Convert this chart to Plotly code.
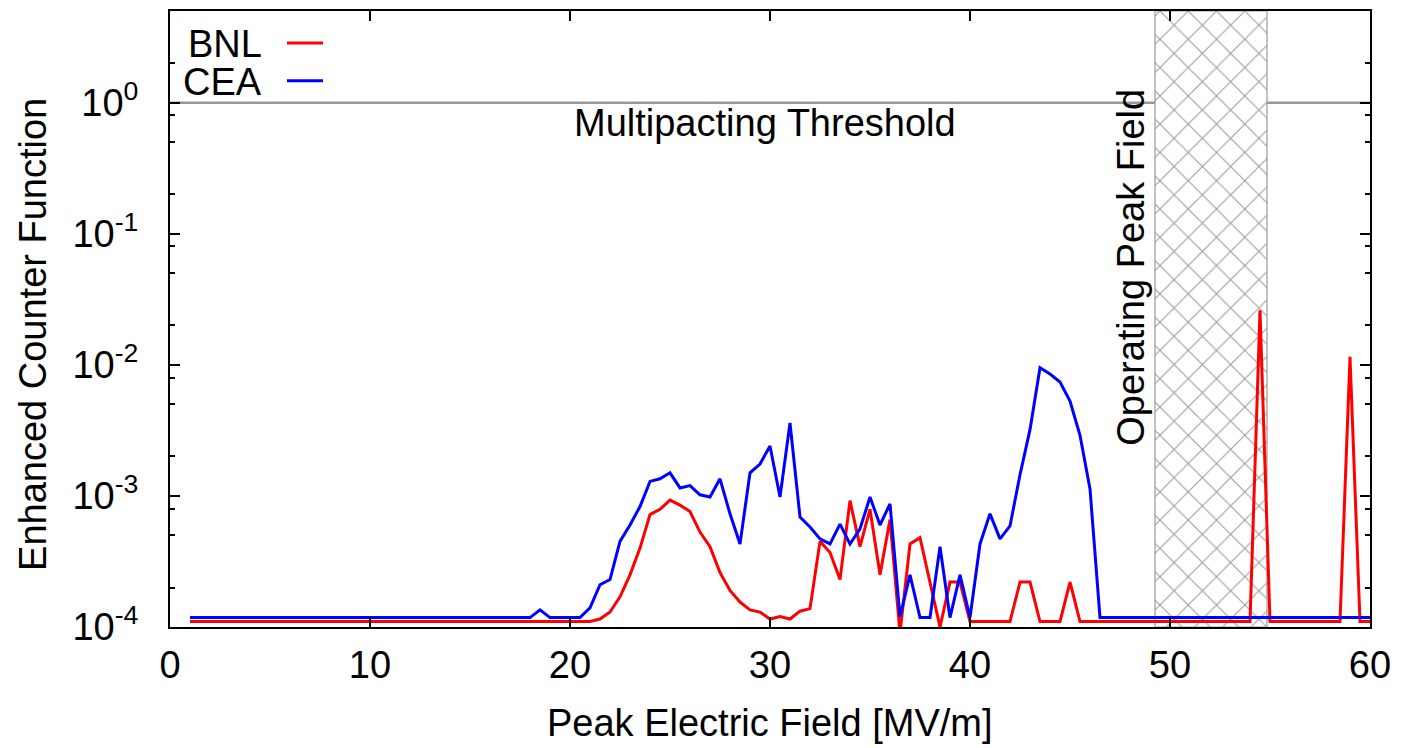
import plotly.graph_objects as go

# ---------------- data ----------------
bnl_field = [1.0, 21.0, 21.5, 22.0, 22.5, 23.0, 23.5, 24.0, 24.5, 25.0, 25.5,
             26.0, 26.5, 27.0, 27.5, 28.0, 28.5, 29.0, 29.5, 30.0, 30.5, 31.0,
             31.5, 32.0, 32.5, 33.0, 33.5, 34.0, 34.5, 35.0, 35.5, 36.0, 36.5,
             37.0, 37.5, 38.0, 38.5, 39.0, 39.5, 40.0, 42.0, 42.5, 43.0, 43.5,
             44.5, 45.0, 45.5, 54.0, 54.5, 55.0, 58.5, 59.0, 59.5, 60.0]
bnl_ecf = [1.1e-4, 1.1e-4, 1.15e-4, 1.3e-4, 1.7e-4, 2.5e-4, 4.0e-4, 7.2e-4, 7.9e-4, 9.3e-4, 8.5e-4,
           7.6e-4, 5.3e-4, 4.1e-4, 2.6e-4, 1.9e-4, 1.55e-4, 1.35e-4, 1.3e-4, 1.15e-4, 1.2e-4, 1.15e-4,
           1.32e-4, 1.38e-4, 4.5e-4, 3.7e-4, 2.3e-4, 9.2e-4, 4.1e-4, 7.9e-4, 2.5e-4, 6.6e-4, 9.0e-5,
           4.3e-4, 4.8e-4, 2.2e-4, 1.0e-4, 2.2e-4, 2.2e-4, 1.1e-4, 1.1e-4, 2.2e-4, 2.2e-4, 1.1e-4,
           1.1e-4, 2.2e-4, 1.1e-4, 1.1e-4, 2.6e-2, 1.1e-4, 1.1e-4, 1.15e-2, 1.1e-4, 1.1e-4]

cea_field = [1.0, 18.0, 18.5, 19.0, 20.5, 21.0, 21.5, 22.0, 22.5, 23.0, 23.5,
             24.0, 24.5, 25.0, 25.5, 26.0, 26.5, 27.0, 27.5, 28.0, 28.5, 29.0,
             29.5, 30.0, 30.5, 31.0, 31.5, 32.0, 32.5, 33.0, 33.5, 34.0, 34.5,
             35.0, 35.5, 36.0, 36.5, 37.0, 37.5, 38.0, 38.5, 39.0, 39.5, 40.0,
             40.5, 41.0, 41.5, 42.0, 42.5, 43.0, 43.5, 44.0, 44.5, 45.0, 45.5,
             46.0, 46.5, 60.0]
cea_ecf = [1.18e-4, 1.18e-4, 1.35e-4, 1.18e-4, 1.18e-4, 1.4e-4, 2.1e-4, 2.3e-4, 4.5e-4, 6.0e-4, 8.3e-4,
           1.29e-3, 1.35e-3, 1.5e-3, 1.15e-3, 1.2e-3, 1.02e-3, 9.8e-4, 1.35e-3, 7.3e-4, 4.3e-4, 1.5e-3,
           1.75e-3, 2.4e-3, 9.8e-4, 3.6e-3, 6.9e-4, 5.8e-4, 4.7e-4, 4.3e-4, 6.1e-4, 4.3e-4, 5.6e-4,
           9.8e-4, 6.0e-4, 8.7e-4, 1.2e-4, 2.5e-4, 1.18e-4, 1.18e-4, 4.1e-4, 1.18e-4, 2.5e-4, 1.18e-4,
           4.3e-4, 7.3e-4, 4.7e-4, 5.9e-4, 1.45e-3, 3.2e-3, 9.5e-3, 8.5e-3, 7.4e-3, 5.3e-3, 2.9e-3,
           1.13e-3, 1.18e-4, 1.18e-4]

threshold_value = 1.0
operating_field_band = [49.25, 54.85]
x_ticks = [0, 10, 20, 30, 40, 50, 60]
y_ticks = [1e-4, 1e-3, 1e-2, 1e-1, 1e0]
y_tick_text = ["10<sup>-4</sup>", "10<sup>-3</sup>", "10<sup>-2</sup>",
               "10<sup>-1</sup>", "10<sup>0</sup>"]
y_minor = [m * d for d in [1e-4, 1e-3, 1e-2, 1e-1, 1e0] for m in (2, 5, 8)]
x_range = [0, 60]
y_min, y_max = 1e-4, 5.0

FONT = "Liberation Sans, Arial, Helvetica, sans-serif"
FS = 38

fig = go.Figure()

# multipacting threshold line
fig.add_trace(go.Scatter(x=x_range, y=[threshold_value, threshold_value], mode="lines",
                         line=dict(color="#999999", width=2.5), showlegend=False,
                         hoverinfo="skip"))

# operating peak field band (hatched)
lo, hi = operating_field_band
fig.add_trace(go.Scatter(x=[lo, hi, hi, lo, lo], y=[y_min, y_min, y_max, y_max, y_min],
                         mode="lines", fill="toself", fillcolor="white",
                         fillpattern=dict(shape="x", size=20, solidity=0.1,
                                          fgcolor="#9a9a9a", bgcolor="white",
                                          fillmode="replace"),
                         line=dict(color="#9a9a9a", width=1.2), showlegend=False,
                         hoverinfo="skip"))

fig.add_trace(go.Scatter(x=bnl_field, y=bnl_ecf, mode="lines", name="BNL",
                         line=dict(color="#ff0000", width=3), showlegend=False))
fig.add_trace(go.Scatter(x=cea_field, y=cea_ecf, mode="lines", name="CEA",
                         line=dict(color="#0000ff", width=3), showlegend=False))

L, R, T, B = 170, 36, 9, 121
W, H = 1406, 748
pw, ph = W - L - R, H - T - B


def px_x(p):
    return (p - L) / pw


def px_y(p):
    return (H - B - p) / ph


annotations = [
    dict(text="Multipacting Threshold", x=29.75, y=-0.155, xref="x", yref="y",
         showarrow=False, xanchor="center", yanchor="middle",
         font=dict(size=FS, family=FONT, color="black")),
    dict(text="Operating Peak Field", x=48.05, y=-1.26, xref="x", yref="y",
         showarrow=False, textangle=-90, xanchor="center", yanchor="middle",
         font=dict(size=FS, family=FONT, color="black")),
    dict(text="Peak Electric Field [MV/m]", x=0.5, y=px_y(723), xref="paper", yref="paper",
         showarrow=False, xanchor="center", yanchor="middle",
         font=dict(size=FS, family=FONT, color="black")),
    dict(text="Enhanced Counter Function", x=px_x(33), y=px_y(334), xref="paper", yref="paper",
         showarrow=False, textangle=-90, xanchor="center", yanchor="middle",
         font=dict(size=FS, family=FONT, color="black")),
    dict(text="BNL", x=px_x(264), y=px_y(42), xref="paper", yref="paper",
         showarrow=False, xanchor="right", yanchor="middle",
         font=dict(size=FS, family=FONT, color="black")),
    dict(text="CEA", x=px_x(264), y=px_y(80), xref="paper", yref="paper",
         showarrow=False, xanchor="right", yanchor="middle",
         font=dict(size=FS, family=FONT, color="black")),
]

shapes = [
    dict(type="line", xref="paper", yref="paper", x0=px_x(287), x1=px_x(323),
         y0=px_y(41), y1=px_y(41), line=dict(color="#ff0000", width=3)),
    dict(type="line", xref="paper", yref="paper", x0=px_x(287), x1=px_x(323),
         y0=px_y(79), y1=px_y(79), line=dict(color="#0000ff", width=3)),
]

fig.update_layout(
    width=W, height=H,
    margin=dict(l=L, r=R, t=T, b=B, pad=0),
    paper_bgcolor="white", plot_bgcolor="white",
    font=dict(family=FONT, size=FS, color="black"),
    showlegend=False,
    annotations=annotations,
    shapes=shapes,
    xaxis=dict(range=x_range, tickmode="array", tickvals=x_ticks,
               ticks="inside", ticklen=10, tickwidth=1.5, tickcolor="black",
               showline=True, linecolor="black", linewidth=2, mirror="ticks",
               showgrid=False, zeroline=False, ticklabelstandoff=3,
               tickfont=dict(size=FS, family=FONT, color="black")),
    yaxis=dict(type="log", range=[-4, 0.699], tickmode="array", tickvals=y_ticks,
               ticktext=y_tick_text, ticks="inside", ticklen=10, tickwidth=1.5,
               tickcolor="black", showline=True, linecolor="black", linewidth=2,
               mirror="allticks", showgrid=False, zeroline=False,
               ticklabelstandoff=22,
               minor=dict(tickmode="array", tickvals=y_minor, ticks="inside",
                          ticklen=5, tickwidth=1.5, tickcolor="black", showgrid=False),
               tickfont=dict(size=FS, family=FONT, color="black")),
)

fig.write_html("out.html")
